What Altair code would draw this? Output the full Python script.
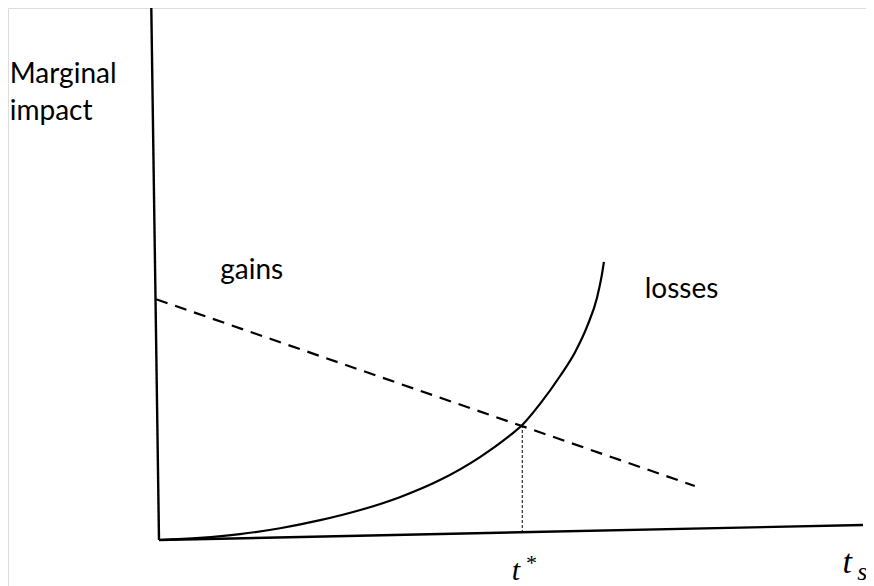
import altair as alt
import pandas as pd

# conceptual units: t (horizontal), impact (vertical)
# losses curve (marginal losses, convex rising)
loss_t = [0.0, 0.58, 1.15, 1.72, 2.29, 2.86, 3.42, 3.99, 4.56, 4.99, 5.16, 5.41, 5.70, 5.91, 6.09, 6.22, 6.29, 6.32]
loss_v = [0.0, 0.04, 0.11, 0.22, 0.37, 0.56, 0.80, 1.12, 1.55, 1.96, 2.15, 2.54, 3.07, 3.51, 4.02, 4.52, 4.95, 5.20]

# gains line (dashed, falling)
gain_t = [-0.04, 7.61]
gain_v = [4.50, 1.01]

# axes drawn as lines
yaxis_t = [-0.11, 0.0]
yaxis_v = [10.0, 0.0]
xaxis_t = [0.0, 10.0]
xaxis_v = [0.0, 0.28]

# t* drop line
tstar_t = [5.16, 5.16]
tstar_v = [0.13, 2.14]

# text labels
lab_text = ["Marginal", "impact", "gains", "losses"]
lab_t = [-2.12, -2.12, 0.87, 6.90]
lab_v = [8.54, 7.85, 4.88, 4.52]

XDOM = [-2.145, 10.043]
YDOM = [-0.860, 9.944]

xs = alt.Scale(domain=XDOM, nice=False, zero=False)
ys = alt.Scale(domain=YDOM, nice=False, zero=False)

def enc(**kw):
    return dict(
        x=alt.X("t:Q", scale=xs, axis=None),
        y=alt.Y("v:Q", scale=ys, axis=None),
        **kw,
    )

def line_df(ts, vs):
    return pd.DataFrame({"t": ts, "v": vs, "o": list(range(len(ts)))})

yaxis = alt.Chart(line_df(yaxis_t, yaxis_v)).mark_line(color="black", strokeWidth=2.4).encode(**enc(order="o:Q"))
xaxis = alt.Chart(line_df(xaxis_t, xaxis_v)).mark_line(color="black", strokeWidth=2.4).encode(**enc(order="o:Q"))
losses = alt.Chart(line_df(loss_t, loss_v)).mark_line(color="black", strokeWidth=2.2, interpolate="monotone").encode(**enc(order="o:Q"))
gains = alt.Chart(line_df(gain_t, gain_v)).mark_line(color="black", strokeWidth=2.2, strokeDash=[12, 8]).encode(**enc(order="o:Q"))
drop = alt.Chart(line_df(tstar_t, tstar_v)).mark_line(color="black", strokeWidth=1, strokeDash=[3, 2]).encode(**enc(order="o:Q"))

labels = alt.Chart(pd.DataFrame({"t": lab_t, "v": lab_v, "txt": lab_text})).mark_text(
    font="Lato", fontSize=28, align="left", baseline="alphabetic", color="black"
).encode(**enc(text="txt:N"))

# math labels
math_main = alt.Chart(pd.DataFrame({"t": [5.01, 9.71], "v": [-0.74, -0.62], "txt": ["t", "t"], "fs": [30, 34]})).mark_text(
    font="Liberation Serif", fontStyle="italic", align="left", baseline="alphabetic", color="black"
).encode(**enc(text="txt:N", size=alt.Size("fs:Q", scale=None, legend=None)))

math_small = alt.Chart(pd.DataFrame({"t": [5.20, 9.92], "v": [-0.56, -0.74], "txt": ["*", "s"], "fs": [22, 26]})).mark_text(
    font="Liberation Serif", fontStyle="italic", align="left", baseline="alphabetic", color="black"
).encode(**enc(text="txt:N", size=alt.Size("fs:Q", scale=None, legend=None)))

chart = alt.layer(yaxis, xaxis, gains, losses, drop, labels, math_main, math_small).properties(
    width=858, height=578,
    autosize=alt.AutoSizeParams(type="none"),
    padding=0,
).configure_view(strokeWidth=0).configure(background="white")

chart.save("out.html", embed_options={"renderer": "svg", "actions": False})
